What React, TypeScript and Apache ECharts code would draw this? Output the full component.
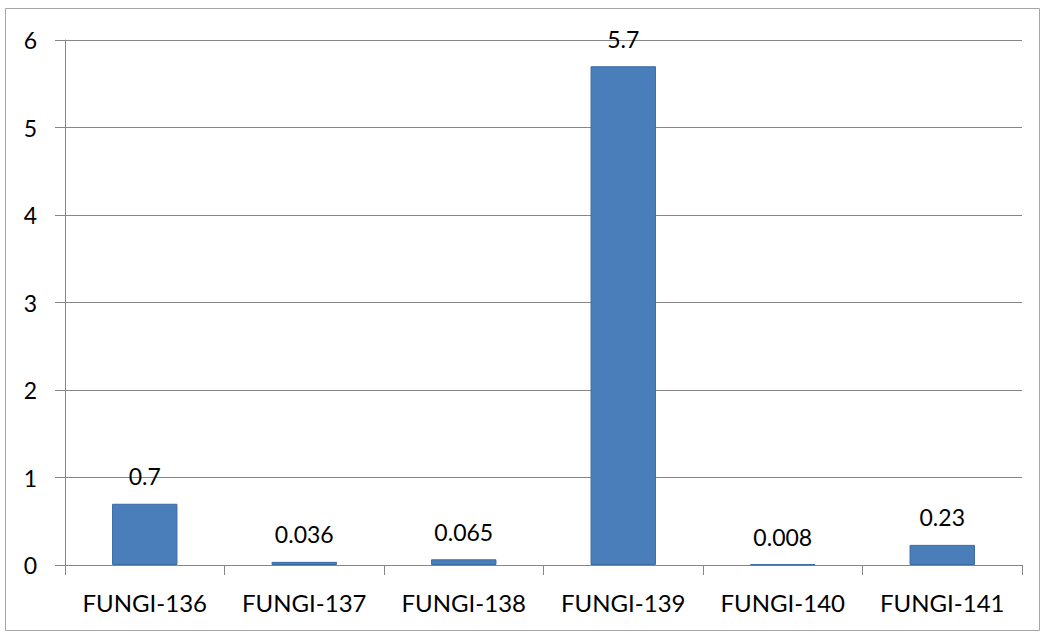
import React, { useEffect, useRef } from "react";
import * as echarts from "echarts";

const categories = ["FUNGI-136", "FUNGI-137", "FUNGI-138", "FUNGI-139", "FUNGI-140", "FUNGI-141"];
const values = [0.7, 0.036, 0.065, 5.7, 0.008, 0.23];
const labels = ["0.7", "0.036", "0.065", "5.7", "0.008", "0.23"];

export default function App() {
  const ref = useRef<HTMLDivElement>(null);
  useEffect(() => {
    if (!ref.current) return;
    const chart = echarts.init(ref.current, undefined, { renderer: "svg" });
    chart.setOption({
      animation: false,
      backgroundColor: "#ffffff",
      graphic: [
        {
          type: "rect",
          shape: { x: 5.5, y: 8.5, width: 1034, height: 622 },
          style: { fill: "none", stroke: "#a6a6a6", lineWidth: 1 },
          silent: true,
        },
      ],
      grid: { left: 65, right: 23, top: 40, bottom: 70 },
      xAxis: {
        type: "category",
        data: categories,
        axisLine: { show: true, lineStyle: { color: "#868686", width: 1 } },
        axisTick: { show: true, interval: 0, length: 10, alignWithLabel: false, lineStyle: { color: "#868686" } },
        axisLabel: { interval: 0, hideOverlap: false, color: "#000", fontFamily: "Lato", fontSize: 24, margin: 25 },
      },
      yAxis: {
        type: "value",
        min: 0,
        max: 6,
        interval: 1,
        axisLine: { show: true, lineStyle: { color: "#868686", width: 1 } },
        axisTick: { show: true, length: 10, lineStyle: { color: "#868686" } },
        axisLabel: { color: "#000", fontFamily: "Lato", fontSize: 23, margin: 28 },
        splitLine: { show: true, lineStyle: { color: "#868686", width: 1 } },
      },
      series: [
        {
          type: "bar",
          data: values,
          barWidth: "41%",
          itemStyle: { color: "#4a7ebb", borderColor: "#3b6aa3", borderWidth: 1 },
          label: {
            show: true,
            position: "top",
            distance: 16,
            color: "#000",
            fontFamily: "Lato",
            fontSize: 23,
            formatter: (p: any) => labels[p.dataIndex],
          },
        },
      ],
    });
    return () => chart.dispose();
  }, []);
  return (
    <div
      ref={ref}
      style={{ position: "absolute", left: 0, top: 0, width: 1045, height: 635 }}
    />
  );
}
